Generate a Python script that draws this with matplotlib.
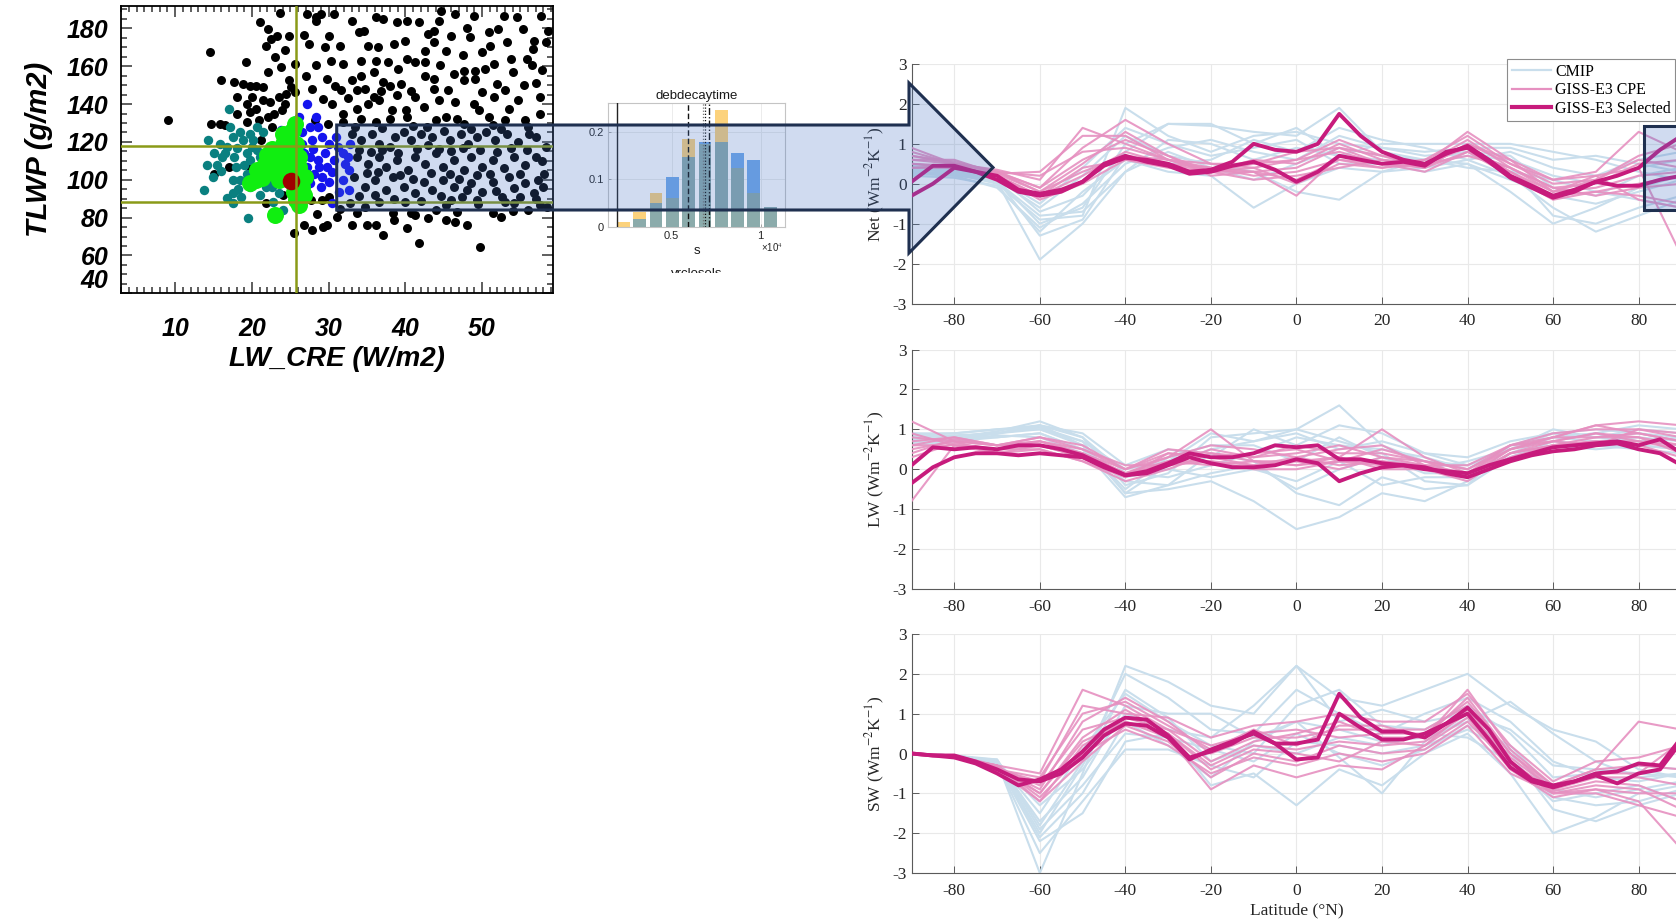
import numpy as np
import matplotlib
matplotlib.use("Agg")
import matplotlib.pyplot as plt
from matplotlib.patches import Polygon
from matplotlib.lines import Line2D
from matplotlib.transforms import Bbox
from matplotlib.ticker import MultipleLocator

plt.rcParams["axes.unicode_minus"] = False
plt.rcParams["mathtext.fontset"] = "stix"

FIG_W, FIG_H = 1676, 924
SANS = ["Liberation Sans", "DejaVu Sans"]
SERIF = ["Liberation Serif", "DejaVu Serif"]

# ---------------- scatter: LW_CRE vs TLWP ----------------
black_pts = [
    (14.6, 167.3), (9.1, 131.8), (14.7, 129.6), (15.8, 129.6), (16.0, 152.5), (19.2, 162.1), (17.7, 151.6),
    (18.8, 150.7), (19.8, 149.8), (20.5, 149.3), (21.1, 183.2), (22.1, 179.6), (21.9, 170.9), (22.5, 174.4),
    (23.3, 176.1), (24.8, 176.1), (22.1, 156.8), (23.8, 159.5), (23.7, 187.9), (20.0, 143.7), (18.1, 143.7),
    (19.3, 140.2), (21.4, 141.9), (22.3, 141.1), (23.5, 143.7), (24.4, 145.4), (24.8, 152.5), (25.1, 148.9),
    (24.3, 140.2), (23.9, 136.7), (22.9, 134.9), (22.1, 133.2), (20.9, 131.4), (19.8, 135.8), (19.3, 130.5),
    (22.6, 127.9), (23.8, 124.4), (25.1, 126.1), (25.6, 161.2), (25.6, 146.3), (27.2, 187.5), (28.4, 185.8),
    (28.4, 184.0), (29.0, 187.5), (30.7, 187.5), (29.5, 170.0), (27.5, 171.8), (28.3, 160.4), (27.9, 148.1),
    (31.9, 161.2), (29.8, 153.3), (30.9, 149.8), (31.6, 147.2), (33.0, 152.5), (33.7, 147.2), (34.2, 155.1),
    (34.6, 178.8), (33.9, 177.9), (36.2, 185.8), (37.1, 184.9), (34.2, 163.0), (36.2, 163.0), (35.9, 156.8),
    (37.1, 151.6), (38.0, 149.8), (38.9, 144.6), (38.5, 171.8), (39.9, 173.5), (38.9, 183.2), (40.2, 184.0),
    (40.2, 163.9), (41.2, 162.1), (42.6, 162.1), (41.8, 183.2), (42.6, 168.2), (43.0, 177.0), (43.7, 178.8),
    (44.4, 184.0), (44.7, 189.3), (43.7, 172.6), (45.3, 168.2), (43.7, 153.3), (43.7, 148.1), (42.6, 155.1),
    (46.5, 187.5), (46.3, 156.0), (48.4, 175.3), (48.9, 186.6), (47.7, 157.7), (49.1, 157.7), (50.4, 158.6),
    (49.1, 153.3), (47.7, 152.5), (48.9, 140.2), (50.9, 178.0), (52.1, 179.6), (51.1, 170.9), (51.6, 161.2),
    (52.8, 186.6), (53.3, 172.6), (54.0, 156.8), (53.0, 147.2), (53.5, 137.5), (55.4, 179.6), (56.8, 173.5),
    (56.6, 168.9), (57.7, 186.6), (58.6, 178.8), (58.4, 172.6), (57.5, 143.7), (35.9, 143.7), (36.6, 141.9),
    (35.1, 140.2), (33.7, 137.5), (31.9, 134.9), (29.9, 129.6), (28.2, 131.4), (38.2, 136.7), (40.1, 136.7),
    (40.2, 133.2), (42.4, 138.4), (41.2, 143.7), (44.4, 141.9), (45.3, 133.2), (46.8, 132.3), (42.8, 127.9),
    (44.0, 131.4), (47.7, 129.6), (49.6, 136.7), (50.9, 133.2), (51.4, 128.8), (53.0, 131.4), (54.7, 141.9),
    (55.6, 131.4), (57.5, 134.9), (34.2, 132.3), (36.2, 130.5), (31.9, 130.5), (38.0, 132.3),
    (33.0, 124.4), (34.2, 120.9), (35.6, 124.4), (36.6, 119.1), (38.0, 117.4), (38.6, 122.6), (39.8, 125.3),
    (40.7, 120.9), (42.1, 124.4), (43.5, 122.6), (44.4, 116.5), (45.8, 120.9), (47.2, 124.4), (48.2, 119.1),
    (49.3, 122.6), (50.5, 125.3), (51.7, 120.9), (53.3, 124.4), (54.7, 120.0), (56.1, 124.4), (57.0, 122.6),
    (58.4, 117.4), (33.7, 112.1), (35.1, 108.6), (36.6, 112.1), (37.5, 106.8), (38.9, 110.4), (40.3, 105.1),
    (41.2, 112.1), (42.6, 108.6), (44.0, 113.9), (44.9, 106.8), (46.3, 110.4), (47.7, 105.1), (48.6, 112.1),
    (50.0, 106.8), (51.4, 110.4), (52.8, 106.0), (54.2, 112.1), (55.6, 107.7), (57.0, 112.1), (58.1, 103.3),
    (33.3, 101.6), (34.7, 96.3), (36.1, 99.8), (37.5, 94.6), (38.4, 101.6), (39.8, 96.3), (41.2, 92.8),
    (42.4, 98.9), (43.5, 94.6), (44.9, 99.8), (46.3, 96.3), (47.4, 91.1), (48.6, 98.1), (50.0, 93.7),
    (51.4, 98.9), (52.6, 91.1), (54.2, 95.4), (55.6, 98.1), (56.8, 92.8), (58.0, 96.3), (32.8, 87.5),
    (34.7, 85.8), (36.6, 88.4), (38.4, 82.3), (40.7, 82.3), (44.0, 84.0), (45.3, 86.6), (46.8, 83.2),
    (49.3, 89.3), (51.4, 82.3), (54.2, 87.5), (57.5, 86.6), (40.2, 74.4), (41.8, 66.5), (45.3, 78.8),
    (46.5, 77.9), (48.1, 76.1), (49.7, 64.7), (36.2, 76.1), (35.0, 76.1), (33.0, 76.1), (37.1, 70.9),
    (33.7, 82.3), (31.1, 80.5), (29.8, 76.1), (29.3, 75.3), (27.9, 73.5), (26.8, 76.1), (25.5, 71.8),
    (41.2, 81.4), (15.1, 103.3), (17.0, 106.8), (19.8, 106.8), (21.2, 120.9), (22.3, 117.4), (21.9, 87.5),
    (22.6, 82.3), (24.0, 91.9), (27.7, 89.3), (29.1, 89.3), (30.0, 91.1), (27.2, 99.8), (27.0, 106.0),
    (26.3, 112.1),
    (34.0, 116.0), (35.5, 114.5), (37.0, 116.0), (39.0, 114.0), (41.5, 116.5), (43.0, 118.5), (46.0, 115.0),
    (47.5, 117.0), (49.8, 115.5), (52.0, 114.5), (53.8, 117.0), (55.8, 115.5), (57.8, 110.0), (35.0, 103.5),
    (36.5, 104.0), (39.3, 102.5), (41.0, 100.5), (43.3, 103.5), (45.8, 103.0), (47.0, 100.5), (49.3, 102.5),
    (51.0, 103.0), (53.5, 101.5), (55.0, 103.0), (57.3, 100.0), (34.0, 91.5), (36.0, 92.0), (38.5, 90.0),
    (40.0, 88.5), (42.0, 89.0), (44.7, 91.5), (46.0, 89.5), (48.0, 94.5), (49.5, 87.0), (51.8, 94.0),
    (53.0, 88.0), (55.0, 91.0), (57.0, 90.0), (58.5, 85.5), (33.5, 128.0), (37.0, 127.5), (41.0, 128.5),
    (45.0, 126.0), (48.5, 127.0), (52.5, 127.0), (56.0, 128.0), (30.5, 140.0), (32.5, 143.0), (34.8, 148.0),
    (36.8, 147.0), (39.5, 150.5), (40.8, 147.0), (45.5, 147.5), (46.5, 141.0), (50.0, 146.5), (52.0, 150.5),
    (55.5, 150.0), (56.5, 160.5), (31.5, 170.5), (33.0, 184.0), (36.5, 170.0), (39.0, 158.5), (44.5, 160.5),
    (47.5, 166.0), (50.0, 167.5), (54.5, 186.0), (55.8, 164.0), (57.8, 158.0), (30.0, 176.0), (26.8, 176.5),
    (27.0, 155.0), (29.3, 142.5), (30.3, 163.0), (35.2, 170.5), (37.8, 162.0), (46.0, 176.0), (48.0, 180.0),
    (51.5, 144.0), (57.0, 151.0), (53.8, 164.0), (31.5, 84.5), (38.5, 79.0), (43.0, 80.0), (52.5, 80.5),
    (54.0, 83.5), (56.0, 84.0), (28.5, 82.0), (16.5, 129.0), (18.0, 135.0), (21.5, 149.0), (23.0, 165.0),
    (24.3, 168.5), (20.5, 137.5),
]
teal_pts = [
    (14.3, 120.9), (17.0, 137.5), (17.2, 127.9), (17.5, 122.6), (15.8, 119.1), (16.8, 117.4), (14.2, 107.7),
    (15.4, 107.7), (13.7, 94.6), (14.9, 101.6), (16.5, 113.9), (17.7, 112.1), (17.9, 106.8), (18.4, 99.8),
    (17.5, 92.8), (17.5, 87.5), (18.6, 91.1), (19.5, 79.6), (18.8, 120.9), (19.8, 124.4), (20.0, 117.4),
    (19.3, 113.9), (19.8, 110.4), (20.7, 127.9), (20.7, 115.6), (21.2, 106.8), (22.1, 101.6), (22.6, 96.3),
    (23.5, 92.8), (24.0, 84.0), (19.8, 96.3), (20.5, 101.6), (19.3, 103.3), (21.4, 125.3), (17.5, 99.8),
    (16.1, 112.1), (22.6, 98.1), (15.0, 114.0), (16.0, 104.5), (18.0, 117.0), (18.5, 125.5), (19.0, 108.0),
    (20.2, 121.0), (21.0, 112.0), (21.8, 96.0), (18.2, 95.0), (16.8, 90.5), (21.0, 92.0), (22.8, 88.5),
    (23.3, 103.5),
]
blue_pts = [
    (27.2, 140.2), (26.1, 133.2), (27.6, 127.9), (28.6, 127.9), (27.9, 120.9), (29.1, 122.6), (30.0, 119.1),
    (31.2, 117.4), (31.9, 113.9), (30.7, 110.4), (32.1, 108.6), (26.8, 113.9), (27.6, 112.1), (28.6, 110.4),
    (27.2, 106.8), (28.1, 103.3), (29.1, 101.6), (27.6, 98.1), (30.0, 98.9), (31.9, 99.8), (31.4, 93.7),
    (32.6, 94.6), (30.5, 87.5), (28.8, 106.8), (26.5, 119.1), (23.8, 126.1), (22.9, 112.1), (29.8, 106.8),
    (32.8, 119.1), (32.6, 105.1), (28.0, 116.5), (29.5, 114.0), (30.5, 104.0), (29.0, 96.0), (27.0, 93.0),
    (31.0, 122.5), (26.5, 125.0), (28.3, 133.0), (32.5, 112.0), (27.5, 101.0),
]
green_pts = [
    (25.6, 129.6), (25.1, 125.3), (24.7, 120.9), (24.0, 119.1), (23.0, 115.6), (24.4, 115.6), (25.8, 119.1),
    (26.1, 112.1), (25.0, 110.4), (23.5, 112.1), (22.6, 110.4), (21.7, 108.6), (20.7, 105.1), (20.5, 99.8),
    (21.7, 103.3), (23.0, 105.1), (24.4, 105.1), (26.1, 106.8), (23.5, 99.8), (26.5, 96.3), (26.8, 91.9),
    (25.8, 89.3), (26.1, 86.6), (23.0, 81.4), (24.9, 117.4), (24.0, 124.4), (25.4, 126.1), (22.6, 116.5),
    (19.8, 98.1), (22.3, 106.8), (24.3, 110.0), (25.5, 115.0), (22.0, 113.0), (21.3, 100.8), (24.6, 100.5),
    (25.5, 93.5), (26.9, 101.5),
]
red_pt = (25.1, 99.3)
ref_lw_cre = 25.7
ref_tlwp = [88.3, 117.9]

# ---------------- histogram inset (x in units of 1e4 s) ----------------
hist_centers = [0.228, 0.320, 0.412, 0.503, 0.595, 0.687, 0.779, 0.871, 0.962, 1.054]
hist_orange = [0.010, 0.030, 0.071, 0.061, 0.184, 0.175, 0.246, 0.123, 0.071, 0.041]
hist_blue = [0.000, 0.017, 0.049, 0.104, 0.146, 0.179, 0.178, 0.155, 0.140, 0.041]
hist_solid = 0.195
hist_dashed = 0.591
hist_dotted = [0.677, 0.688]
hist_dashdot = 0.711

# ---------------- zonal feedback panels ----------------
lat10 = [-90, -80, -70, -60, -50, -40, -30, -20, -10, 0, 10, 20, 30, 40, 50, 60, 70, 80, 90]
lat5 = [-90, -85, -80, -75, -70, -65, -60, -55, -50, -45, -40, -35, -30, -25, -20, -15, -10, -5, 0,
        5, 10, 15, 20, 25, 30, 35, 40, 45, 50, 55, 60, 65, 70, 75, 80, 85, 90]

net_cmip = [
    [0.40, 0.35, 0.10, -1.00, -0.60, 1.00, 1.50, 1.45, 1.30, 1.20, 1.90, 0.80, 0.60, 0.80, 0.40, -0.80, -1.00, -0.60, -0.30],
    [0.35, 0.30, 0.05, -1.90, -1.00, 0.30, 1.10, 1.00, 0.60, 0.90, 0.70, 0.60, 0.50, 0.70, 0.60, 0.20, 0.00, 0.40, 0.60],
    [0.30, 0.25, 0.00, -0.90, -0.80, 1.90, 1.20, 0.80, 1.20, 1.30, 1.00, 0.90, 0.80, 0.90, 0.90, 0.60, 0.70, 0.50, 0.30],
    [0.20, 0.15, -0.05, -1.20, -0.20, 0.60, 0.30, 0.20, -0.60, 0.00, 0.40, 0.30, 0.40, 0.60, 0.20, -0.60, -1.20, -0.80, -0.40],
    [0.50, 0.40, 0.20, -0.70, -0.30, 0.80, 1.50, 1.50, 1.00, 1.40, 0.70, 1.00, 1.00, 1.00, 1.00, 0.80, 0.60, 0.30, 0.10],
    [0.30, 0.20, 0.10, -0.60, 0.20, 1.20, 0.70, 0.50, 0.30, -0.20, -0.40, 0.30, 0.60, 0.50, 0.10, -0.30, -0.50, -0.20, 0.10],
    [0.25, 0.20, -0.10, -1.10, -0.50, 0.50, 0.90, 1.10, 0.80, 0.60, 1.20, 0.90, 0.70, 0.80, 0.70, -0.10, -0.30, 0.20, 0.40],
    [0.40, 0.30, 0.15, -0.50, 0.40, 1.40, 1.00, 0.70, 0.90, 1.10, 0.50, 0.50, 0.30, 0.50, -0.20, -1.00, -0.60, -0.10, 0.20],
    [0.30, 0.25, 0.05, -0.80, -0.70, 0.30, 0.80, 0.40, 0.10, 0.50, 0.90, 0.70, 0.60, 0.40, 0.30, 0.10, -0.20, -0.40, -0.60],
    [0.45, 0.35, 0.10, -1.30, -0.90, 0.70, 0.50, 0.60, 1.10, 0.80, 1.40, 1.10, 0.90, 0.60, 0.80, 0.40, 0.20, 0.60, 0.80],
]
net_cpe = [
    [0.90, 0.50, 0.30, -0.10, 0.90, 1.60, 1.00, 0.50, 0.40, 0.60, 1.10, 0.70, 0.50, 1.30, 0.60, -0.20, 0.20, 0.40, -1.80],
    [0.60, 0.60, 0.25, 0.30, 1.20, 1.20, 0.60, 0.30, 0.50, 0.80, 0.90, 0.50, 0.40, 1.00, 0.50, 0.10, 0.30, 1.30, 0.80],
    [0.50, 0.40, 0.20, -0.30, 0.20, 0.80, 0.50, 0.40, 0.20, 0.30, 0.60, 0.40, 0.60, 0.90, 0.30, -0.30, -0.20, 0.00, 0.20],
    [0.70, 0.50, 0.30, -0.20, 0.50, 1.30, 0.70, 0.20, 0.30, -0.30, 0.70, 0.50, 0.50, 1.10, 0.40, -0.10, 0.00, 0.50, 0.60],
    [0.40, 0.40, 0.20, -0.40, 0.00, 0.60, 0.40, 0.30, 0.10, 0.20, 0.40, 0.60, 0.40, 0.80, 0.20, -0.40, -0.20, -0.30, -0.50],
    [0.80, 0.50, 0.35, 0.10, 1.40, 1.00, 0.60, 0.50, 0.50, 0.60, 0.80, 0.50, 0.60, 1.20, 0.50, 0.00, 0.10, 0.70, 1.00],
    [0.50, 0.45, 0.25, -0.20, 0.30, 0.70, 0.60, 0.30, 0.40, 0.00, 0.50, 0.40, 0.50, 0.70, 0.40, -0.20, -0.10, 0.20, 0.30],
    [0.60, 0.50, 0.30, 0.20, 0.80, 0.90, 0.60, 0.40, 0.30, 0.40, 0.90, 0.70, 0.40, 1.00, 0.60, 0.10, 0.20, -0.40, -0.60],
    [0.70, 0.55, 0.30, -0.10, 0.60, 1.10, 0.70, 0.30, 0.60, 0.50, 1.00, 0.60, 0.50, 0.90, 0.30, -0.20, 0.10, 0.60, 0.40],
    [0.40, 0.45, 0.20, -0.30, 0.40, 0.60, 0.50, 0.30, 0.30, 0.10, 0.60, 0.50, 0.30, 0.80, 0.40, -0.10, -0.30, -0.10, 0.00],
]
net_sel = [
    [-0.30, 0.00, 0.40, 0.30, 0.20, -0.15, -0.25, -0.15, 0.05, 0.45, 0.65, 0.60, 0.50, 0.30, 0.35, 0.55, 1.00, 0.85, 0.80,
     1.00, 1.75, 1.20, 0.80, 0.60, 0.50, 0.75, 0.95, 0.60, 0.20, -0.05, -0.30, -0.15, 0.05, 0.20, 0.40, 0.85, 1.20],
    [0.05, 0.45, 0.45, 0.30, 0.10, -0.20, -0.30, -0.20, 0.05, 0.50, 0.70, 0.55, 0.45, 0.25, 0.30, 0.45, 0.55, 0.35, 0.05,
     0.30, 0.70, 0.60, 0.50, 0.55, 0.45, 0.80, 0.90, 0.55, 0.15, -0.10, -0.35, -0.20, 0.05, -0.05, -0.05, 0.10, 0.20],
]

lw_cmip = [
    [0.90, 0.80, 0.95, 1.20, 0.80, -0.40, -0.10, 0.80, 0.90, 1.00, 0.70, 0.40, -0.30, -0.40, 0.60, 0.90, 1.00, 0.90, 0.80],
    [0.70, 0.75, 0.90, 1.10, 0.60, -0.60, -0.50, -0.30, -0.80, -1.50, -1.20, -0.60, -0.80, -0.30, 0.40, 0.80, 0.90, 0.70, 0.60],
    [0.85, 0.90, 1.00, 1.00, 0.70, 0.00, 0.20, 0.90, 0.70, 1.00, 1.60, 0.60, 0.20, 0.10, 0.50, 1.00, 0.80, 1.00, 0.90],
    [0.60, 0.70, 0.80, 0.90, 0.50, -0.70, -0.40, 0.40, 0.20, -0.60, -0.90, -0.20, -0.50, -0.40, 0.30, 0.70, 0.60, 0.50, 0.40],
    [0.80, 0.85, 0.90, 1.10, 0.90, 0.10, 0.50, 0.30, 1.00, 0.60, 1.10, 0.90, 0.40, 0.30, 0.70, 0.90, 0.80, 0.70, 0.80],
    [0.70, 0.70, 0.85, 0.80, 0.40, -0.20, 0.00, -0.20, 0.00, -0.30, 0.20, -0.40, -0.20, -0.20, 0.40, 0.60, 0.50, 0.60, 0.50],
    [0.75, 0.80, 0.90, 1.00, 0.60, -0.50, 0.30, 0.60, 0.60, 0.20, 0.80, 0.30, 0.00, 0.20, 0.50, 0.80, 0.70, 0.80, 0.70],
    [0.90, 0.90, 1.00, 1.10, 0.80, -0.10, -0.20, 0.10, 0.40, 0.80, 0.60, 0.50, 0.30, 0.00, 0.60, 0.80, 0.90, 1.10, 1.00],
    [0.65, 0.80, 0.80, 0.90, 0.50, -0.30, -0.40, -0.10, 0.10, -0.50, 0.00, 0.30, -0.10, -0.10, 0.30, 0.70, 0.60, 0.60, 0.50],
    [0.80, 0.75, 0.90, 1.05, 0.70, -0.60, 0.10, 0.50, 0.70, 0.90, 0.50, 0.70, 0.40, 0.10, 0.50, 0.90, 0.80, 0.90, 0.70],
]
lw_cpe = [
    [1.20, 0.70, 0.60, 0.70, 0.40, -0.10, 0.30, 1.00, 0.20, 0.10, 0.30, 1.00, 0.30, -0.10, 0.60, 0.80, 1.10, 1.20, 1.10],
    [-0.80, 0.60, 0.50, 0.60, 0.30, -0.20, 0.40, 0.30, 0.10, 0.30, 0.10, 0.20, 0.00, -0.20, 0.50, 0.70, 0.90, 0.80, 0.60],
    [0.70, 0.80, 0.60, 0.80, 0.50, 0.10, 0.10, 0.50, 0.30, 0.60, 0.40, 0.40, 0.20, 0.00, 0.60, 0.90, 1.00, 1.00, 0.90],
    [0.50, 0.70, 0.40, 0.50, 0.20, -0.20, 0.20, 0.20, 0.00, 0.00, 0.20, 0.10, 0.00, -0.30, 0.40, 0.60, 0.70, 0.60, 0.30],
    [0.90, 0.60, 0.50, 0.70, 0.40, 0.00, 0.50, 0.40, 0.30, 0.40, 0.60, 0.30, 0.10, -0.10, 0.50, 0.80, 0.80, 0.90, 0.70],
    [0.40, 0.75, 0.60, 0.60, 0.30, -0.10, 0.20, 0.10, 0.20, 0.20, 0.00, 0.30, 0.20, -0.20, 0.40, 0.70, 0.60, 1.00, 0.80],
    [0.60, 0.80, 0.60, 0.80, 0.60, 0.00, 0.30, 0.60, 0.50, 0.30, 0.50, 0.60, 0.10, 0.10, 0.60, 0.70, 0.90, 0.70, 0.50],
    [0.30, 0.65, 0.50, 0.50, 0.20, -0.30, 0.00, 0.40, 0.20, 0.10, 0.20, 0.20, 0.10, -0.20, 0.30, 0.60, 0.80, 0.80, 0.40],
    [0.80, 0.70, 0.60, 0.70, 0.50, 0.00, 0.40, 0.30, 0.40, 0.50, 0.20, 0.50, 0.20, 0.00, 0.50, 0.80, 1.10, 0.90, 0.70],
    [0.60, 0.60, 0.40, 0.60, 0.40, -0.10, 0.10, 0.20, 0.10, 0.20, 0.30, 0.00, 0.00, -0.20, 0.40, 0.60, 0.70, 0.70, 0.60],
]
lw_sel = [
    [0.10, 0.55, 0.50, 0.55, 0.50, 0.60, 0.60, 0.50, 0.35, 0.10, -0.15, -0.05, 0.15, 0.40, 0.30, 0.30, 0.40, 0.60, 0.55,
     0.60, 0.25, 0.25, 0.15, 0.10, 0.00, -0.05, -0.10, 0.10, 0.25, 0.40, 0.55, 0.60, 0.65, 0.70, 0.60, 0.75, 0.40],
    [-0.35, 0.05, 0.30, 0.40, 0.40, 0.35, 0.40, 0.35, 0.30, 0.05, -0.15, -0.10, 0.10, 0.30, 0.15, 0.05, 0.05, 0.10, 0.25,
     0.15, -0.30, -0.10, 0.05, 0.10, 0.05, -0.10, -0.20, 0.00, 0.20, 0.35, 0.45, 0.50, 0.60, 0.65, 0.50, 0.40, 0.10],
]

sw_cmip = [
    [0.00, -0.05, -0.20, -3.00, -0.50, 2.20, 1.80, 1.20, 1.00, 2.20, 1.40, 1.20, 1.60, 2.00, 1.20, 0.60, 0.30, -0.40, -0.60],
    [0.00, -0.10, -0.25, -2.20, -1.50, 0.30, 0.50, -0.80, -0.50, -1.30, -0.40, -0.80, 0.00, 0.50, -0.50, -2.00, -1.60, -1.00, -0.80],
    [0.00, -0.05, -0.15, -1.80, -0.20, 2.00, 1.40, 0.60, 0.50, 1.60, 1.00, 0.50, 1.00, 1.40, 0.80, -0.20, -0.60, -0.70, -0.50],
    [0.00, -0.10, -0.20, -2.10, -1.00, 0.80, 0.20, -0.60, 0.30, 0.80, -0.10, -1.00, 0.30, 0.90, 0.10, -1.10, -1.30, -1.20, -0.90],
    [0.00, -0.05, -0.20, -1.50, 0.10, 1.50, 0.80, 0.20, 0.00, 1.20, 1.60, 0.70, 0.60, 1.20, 0.50, -0.60, -0.50, -0.30, -0.40],
    [0.00, -0.10, -0.25, -2.50, -1.20, 0.10, 0.10, -0.30, -0.60, 0.30, 0.20, 0.00, 0.20, 0.60, 0.00, -1.40, -1.70, -1.30, -1.00],
    [0.00, -0.05, -0.20, -1.70, -0.60, 1.20, 1.00, 1.00, 0.40, 0.80, 0.60, 0.30, 0.40, 0.80, 1.30, 0.50, -0.20, -0.60, -0.50],
    [0.00, -0.10, -0.15, -1.90, -0.80, 0.50, 0.40, 0.10, -0.20, 0.50, 0.00, -0.30, 0.10, 0.70, 0.20, -0.90, -1.10, -0.90, -0.70],
    [0.00, -0.05, -0.20, -1.30, -0.40, 1.00, 0.60, 0.40, 1.20, 2.20, 0.80, 1.10, 0.80, 1.00, 0.60, -0.30, -0.40, -0.50, -0.60],
    [0.00, -0.10, -0.20, -2.00, -0.30, 1.60, 0.90, -0.20, 0.20, 0.00, 0.40, 0.20, 0.50, 0.40, -0.20, -1.20, -1.00, -0.80, -1.20],
]
sw_cpe = [
    [0.00, -0.05, -0.30, -0.50, 1.60, 1.20, 0.60, -0.20, 0.30, 0.50, 0.80, 0.40, 0.40, 1.60, 0.10, -0.80, -0.40, 0.80, 0.60],
    [0.00, -0.10, -0.40, -1.20, 0.20, 0.80, 0.40, -0.90, -0.30, -0.60, -0.30, -0.40, 0.20, 0.90, -0.40, -1.10, -0.90, -1.20, -2.40],
    [0.00, -0.05, -0.35, -0.90, 0.80, 1.40, 0.80, 0.00, 0.40, 0.40, 0.60, 0.60, 0.60, 1.20, -0.10, -0.90, -0.60, -0.60, -0.80],
    [0.00, -0.10, -0.30, -1.10, 0.00, 0.60, 0.20, -0.50, -0.10, -0.30, 0.00, -0.20, 0.00, 0.70, -0.50, -1.00, -1.00, -1.30, -1.60],
    [0.00, -0.05, -0.40, -0.70, 1.20, 1.00, 0.90, 0.40, 0.70, 0.80, 1.00, 0.80, 0.80, 1.50, 0.20, -0.70, -0.20, -0.10, 0.20],
    [0.00, -0.10, -0.30, -1.00, 0.40, 1.10, 0.50, -0.30, 0.20, 0.10, 0.30, 0.20, 0.30, 1.00, -0.20, -1.00, -0.80, -0.90, -1.40],
    [0.00, -0.05, -0.35, -0.80, 0.60, 0.90, 0.60, 0.20, 0.50, 0.60, 0.40, 0.50, 0.50, 1.30, 0.00, -0.80, -0.40, -0.30, -0.40],
    [0.00, -0.10, -0.30, -1.20, -0.20, 0.70, 0.30, -0.60, 0.00, -0.20, 0.20, 0.00, 0.10, 0.80, -0.30, -1.00, -0.90, -1.00, -1.00],
    [0.00, -0.05, -0.40, -0.60, 1.00, 1.30, 0.70, 0.10, 0.60, 0.20, 0.70, 0.70, 0.40, 1.40, 0.00, -0.90, -0.50, -0.50, 0.30],
    [0.00, -0.10, -0.35, -1.00, 0.30, 0.80, 0.50, -0.40, 0.10, 0.00, -0.20, 0.30, 0.20, 1.10, -0.20, -0.95, -0.70, -0.80, -1.20],
]
sw_sel = [
    [0.00, -0.05, -0.05, -0.20, -0.40, -0.65, -0.70, -0.50, -0.10, 0.45, 0.75, 0.70, 0.40, -0.15, 0.10, 0.30, 0.50, 0.25, -0.15,
     -0.10, 1.00, 0.65, 0.35, 0.35, 0.50, 0.75, 1.00, 0.35, -0.35, -0.70, -0.85, -0.70, -0.50, -0.45, -0.25, -0.30, 0.40],
    [0.00, -0.05, -0.10, -0.25, -0.50, -0.80, -0.65, -0.40, 0.05, 0.60, 0.90, 0.85, 0.45, -0.10, 0.05, 0.25, 0.55, 0.25, 0.25,
     0.35, 1.50, 0.90, 0.55, 0.55, 0.40, 0.75, 1.15, 0.60, -0.20, -0.65, -0.80, -0.70, -0.55, -0.75, -0.50, -0.40, 0.30],
]

CMIP_C = "#c9deec"
CPE_C = "#e690c0"
SEL_C = "#c71b7c"


def fig_rect(left, top, right, bottom):
    """pixel box (y from top) -> [l, b, w, h] in figure fraction"""
    return [left / FIG_W, 1 - bottom / FIG_H, (right - left) / FIG_W, (bottom - top) / FIG_H]


def to_fig(pts):
    return [(x / FIG_W, 1 - y / FIG_H) for x, y in pts]


def draw_scatter(fig):
    ax = fig.add_axes(fig_rect(120.7, 5.7, 552.6, 293.3))
    bx, by = np.array(black_pts).T
    tx, ty = np.array(teal_pts).T
    ux, uy = np.array(blue_pts).T
    gx, gy = np.array(green_pts).T
    ax.scatter(bx, by, s=42, color="black", linewidths=0, zorder=2)
    ax.scatter(tx, ty, s=46, color="#0a8080", linewidths=0, zorder=3)
    ax.scatter(ux, uy, s=46, color="#1414ee", linewidths=0, zorder=4)
    ax.scatter(gx, gy, s=150, color="#10ee10", linewidths=0, zorder=5)
    ax.scatter([red_pt[0]], [red_pt[1]], s=160, color="#a00000", linewidths=0, zorder=6)
    ax.axvline(ref_lw_cre, color="#8a9a18", lw=1.8, zorder=7)
    for v in ref_tlwp:
        ax.axhline(v, color="#8a9a18", lw=1.8, zorder=7)

    ax.set_xlim(2.9, 59.2)
    ax.set_ylim(40, 192)
    ax.set_xticks([10, 20, 30, 40, 50])
    ax.set_yticks([40, 60, 80, 100, 120, 140, 160, 180])
    ax.xaxis.set_minor_locator(MultipleLocator(1))
    ax.yaxis.set_minor_locator(MultipleLocator(5))
    ax.tick_params(which="both", direction="in", top=True, right=True, width=1.1, color="#333333")
    ax.tick_params(which="major", length=8)
    ax.tick_params(which="minor", length=4)
    ax.tick_params(axis="x", pad=17)
    ax.tick_params(axis="y", pad=9)
    for sp in ax.spines.values():
        sp.set_linewidth(1.3)
    for lab in ax.get_xticklabels() + ax.get_yticklabels():
        lab.set_fontfamily(SANS)
        lab.set_fontstyle("italic")
        lab.set_fontweight("bold")
        lab.set_fontsize(18)
    ax.yaxis.get_major_ticks()[0].label1.set_verticalalignment("bottom")
    ax.set_xlabel("LW_CRE (W/m2)", family=SANS, style="italic", weight="bold", fontsize=20, labelpad=4)
    ax.set_ylabel("TLWP (g/m2)", family=SANS, style="italic", weight="bold", fontsize=21, labelpad=10)
    return ax


def draw_hist(fig):
    ax = fig.add_axes(fig_rect(608.3, 103.3, 785, 226.7))
    lo = np.minimum(hist_orange, hist_blue)
    ax.bar(hist_centers, hist_orange, width=0.072, color="#fcd27c", zorder=2)
    ax.bar(hist_centers, hist_blue, width=0.072, color="#72aaea", zorder=3)
    ax.bar(hist_centers, lo, width=0.072, color="#8babab", zorder=4)
    ax.axvline(hist_solid, color="#222222", lw=1.0, zorder=5)
    ax.axvline(hist_dashed, color="#111111", lw=1.0, ls=(0, (4, 2)), zorder=5)
    ax.axvline(hist_dotted[0], color="#777777", lw=0.9, ls=(0, (1, 1.5)), zorder=5)
    ax.axvline(hist_dotted[1], color="#111111", lw=0.9, ls=(0, (1, 1.5)), zorder=5)
    ax.axvline(hist_dashdot, color="#111111", lw=1.0, ls=(0, (5, 1.5, 1, 1.5)), zorder=5)
    ax.set_xlim(0.144, 1.137)
    ax.set_ylim(0, 0.26)
    ax.set_xticks([0.5, 1.0])
    ax.set_xticklabels(["0.5", "1"])
    ax.set_yticks([0, 0.1, 0.2])
    ax.set_yticklabels(["0", "0.1", "0.2"])
    ax.grid(color="#ececec", lw=0.7, zorder=0)
    ax.tick_params(direction="in", length=2, width=0.6, color="#999999", labelsize=8,
                   labelcolor="#262626", pad=3)
    for lab in ax.get_xticklabels() + ax.get_yticklabels():
        lab.set_fontfamily(SANS)
    for sp in ax.spines.values():
        sp.set_color("#c4c4c4")
        sp.set_linewidth(0.8)
    fig.text(697 / FIG_W, 1 - 95.7 / FIG_H, "debdecaytime", family=SANS, fontsize=9.5,
             color="#1a1a1a", ha="center", va="center")
    fig.text(697 / FIG_W, 1 - 251 / FIG_H, "s", family=SANS, fontsize=9.5, color="#1a1a1a",
             ha="center", va="center")
    fig.text(772 / FIG_W, 1 - 247.5 / FIG_H, "×10$^{4}$", family=SANS, fontsize=7, color="#262626",
             ha="center", va="center")
    # second label line of the cropped screenshot, only the tops of its letters are left
    cut = fig.text(697 / FIG_W, 1 - 267.5 / FIG_H, "yrclosels", family=SANS, fontsize=9.5,
                   color="#1a1a1a", ha="center", va="top")
    cut.set_clip_box(Bbox.from_extents(600, FIG_H - 272.5, 800, FIG_H - 255))
    cut.set_clip_on(True)
    return ax


def draw_panel(fig, top, bottom, cmip, cpe, sel, ylab, xlab=None, legend=False):
    ax = fig.add_axes(fig_rect(911.5, top, 1681.4, bottom))
    for row in cmip:
        ax.plot(lat10, row, color=CMIP_C, lw=1.5, zorder=2)
    for row in cpe:
        ax.plot(lat10, row, color=CPE_C, lw=1.5, alpha=0.9, zorder=3)
    for row in sel:
        ax.plot(lat5, row, color=SEL_C, lw=2.8, zorder=4, solid_joinstyle="round")
    ax.set_xlim(-90, 90)
    ax.set_ylim(-3, 3)
    ax.set_xticks([-80, -60, -40, -20, 0, 20, 40, 60, 80])
    ax.set_yticks([-3, -2, -1, 0, 1, 2, 3])
    ax.grid(color="#e9e9e9", lw=0.8)
    ax.set_axisbelow(True)
    ax.spines["top"].set_visible(False)
    ax.spines["right"].set_visible(False)
    for s in ["left", "bottom"]:
        ax.spines[s].set_color("#5a5a5a")
        ax.spines[s].set_linewidth(0.8)
    ax.tick_params(direction="in", length=5, width=0.7, color="#5a5a5a", labelsize=12.5,
                   labelcolor="#262626")
    ax.tick_params(axis="x", pad=7)
    for lab in ax.get_xticklabels() + ax.get_yticklabels():
        lab.set_fontfamily(SERIF)
    ax.set_ylabel(ylab, family=SERIF, fontsize=12.5, color="#262626", labelpad=4)
    if xlab:
        ax.set_xlabel(xlab, family=SERIF, fontsize=12.5, color="#262626", labelpad=3)
    if legend:
        handles = [Line2D([], [], color=CMIP_C, lw=1.6),
                   Line2D([], [], color=CPE_C, lw=1.6),
                   Line2D([], [], color=SEL_C, lw=3.0)]
        leg = ax.legend(handles, ["CMIP", "GISS-E3 CPE", "GISS-E3 Selected"], loc="upper left",
                        bbox_to_anchor=(0.7735, 1.021), borderaxespad=0, fancybox=False,
                        framealpha=1, edgecolor="#8c8c8c", prop={"family": SERIF, "size": 11.5},
                        handlelength=2.45, handletextpad=0.25, labelspacing=0.15, borderpad=0.3)
        leg.get_frame().set_linewidth(0.8)
        leg.set_zorder(10)
    return ax


def draw_arrow(fig):
    face = (0.267, 0.447, 0.769, 0.25)
    edge = "#1f3050"
    arrow_px = [(336.7, 125), (909, 125), (909, 83), (993, 167.5), (909, 253), (909, 210), (336.7, 210)]
    fig.add_artist(Polygon(to_fig(arrow_px), closed=True, facecolor=face, edgecolor=edge,
                           lw=2.2, joinstyle="miter", zorder=20))
    box_px = [(1644, 126), (1720, 126), (1720, 210), (1644, 210)]
    fig.add_artist(Polygon(to_fig(box_px), closed=True, facecolor=face, edgecolor=edge,
                           lw=2.2, joinstyle="miter", zorder=20))


fig = plt.figure(figsize=(FIG_W / 100, FIG_H / 100), dpi=100)
fig.patch.set_facecolor("white")

draw_scatter(fig)
draw_hist(fig)
draw_panel(fig, 64, 303.5, net_cmip, net_cpe, net_sel, r"Net (Wm$^{-2}$K$^{-1}$)", legend=True)
draw_panel(fig, 349.5, 589, lw_cmip, lw_cpe, lw_sel, r"LW (Wm$^{-2}$K$^{-1}$)")
draw_panel(fig, 634, 873, sw_cmip, sw_cpe, sw_sel, r"SW (Wm$^{-2}$K$^{-1}$)", xlab="Latitude (°N)")
draw_arrow(fig)

fig.savefig("out.png", dpi=100, facecolor="white")
